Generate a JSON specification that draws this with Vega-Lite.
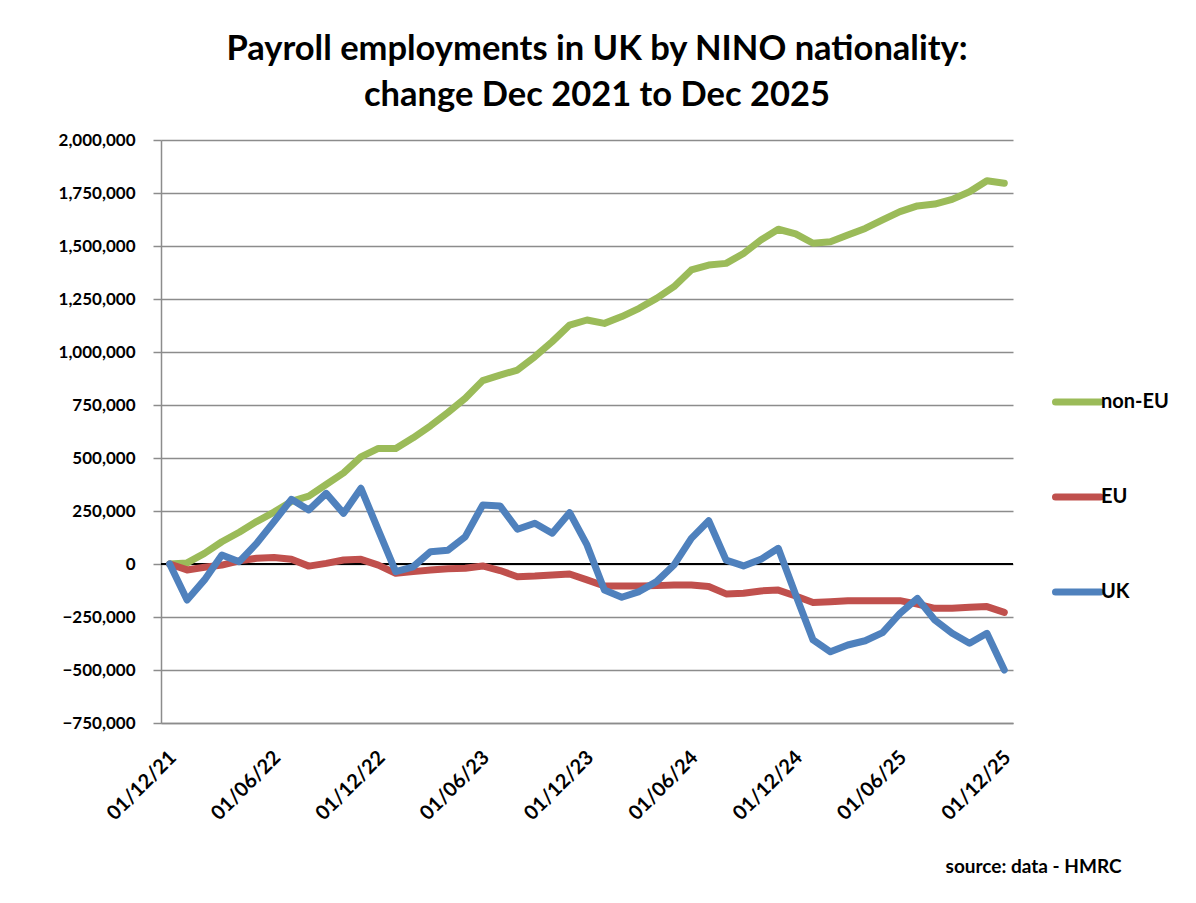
{
  "$schema": "https://vega.github.io/schema/vega-lite/v6.json",
  "autosize": {"type": "none"},
  "padding": {"left": 161, "top": 140, "right": 183, "bottom": 180},
  "width": 852,
  "height": 583,
  "background": "white",
  "title": {
    "text": ["Payroll employments in UK by NINO nationality:", "change Dec 2021 to Dec 2025"],
    "font": "Lato",
    "fontSize": 34.5,
    "fontWeight": "bold",
    "color": "black",
    "anchor": "middle",
    "frame": "group",
    "lineHeight": 46,
    "offset": 18,
    "dx": 10
  },
  "data": {
    "values": [
      {"date": "01/12/21", "s": "non-EU", "v": 0},
      {"date": "01/01/22", "s": "non-EU", "v": 5000},
      {"date": "01/02/22", "s": "non-EU", "v": 50000},
      {"date": "01/03/22", "s": "non-EU", "v": 105000},
      {"date": "01/04/22", "s": "non-EU", "v": 150000},
      {"date": "01/05/22", "s": "non-EU", "v": 200000},
      {"date": "01/06/22", "s": "non-EU", "v": 245000},
      {"date": "01/07/22", "s": "non-EU", "v": 295000},
      {"date": "01/08/22", "s": "non-EU", "v": 320000},
      {"date": "01/09/22", "s": "non-EU", "v": 375000},
      {"date": "01/10/22", "s": "non-EU", "v": 430000},
      {"date": "01/11/22", "s": "non-EU", "v": 505000},
      {"date": "01/12/22", "s": "non-EU", "v": 545000},
      {"date": "01/01/23", "s": "non-EU", "v": 545000},
      {"date": "01/02/23", "s": "non-EU", "v": 595000},
      {"date": "01/03/23", "s": "non-EU", "v": 652000},
      {"date": "01/04/23", "s": "non-EU", "v": 715000},
      {"date": "01/05/23", "s": "non-EU", "v": 782000},
      {"date": "01/06/23", "s": "non-EU", "v": 865000},
      {"date": "01/07/23", "s": "non-EU", "v": 891000},
      {"date": "01/08/23", "s": "non-EU", "v": 915000},
      {"date": "01/09/23", "s": "non-EU", "v": 978000},
      {"date": "01/10/23", "s": "non-EU", "v": 1049000},
      {"date": "01/11/23", "s": "non-EU", "v": 1127000},
      {"date": "01/12/23", "s": "non-EU", "v": 1151000},
      {"date": "01/01/24", "s": "non-EU", "v": 1135000},
      {"date": "01/02/24", "s": "non-EU", "v": 1167000},
      {"date": "01/03/24", "s": "non-EU", "v": 1206000},
      {"date": "01/04/24", "s": "non-EU", "v": 1253000},
      {"date": "01/05/24", "s": "non-EU", "v": 1308000},
      {"date": "01/06/24", "s": "non-EU", "v": 1387000},
      {"date": "01/07/24", "s": "non-EU", "v": 1410000},
      {"date": "01/08/24", "s": "non-EU", "v": 1418000},
      {"date": "01/09/24", "s": "non-EU", "v": 1465000},
      {"date": "01/10/24", "s": "non-EU", "v": 1528000},
      {"date": "01/11/24", "s": "non-EU", "v": 1579000},
      {"date": "01/12/24", "s": "non-EU", "v": 1557000},
      {"date": "01/01/25", "s": "non-EU", "v": 1513000},
      {"date": "01/02/25", "s": "non-EU", "v": 1520000},
      {"date": "01/03/25", "s": "non-EU", "v": 1552000},
      {"date": "01/04/25", "s": "non-EU", "v": 1583000},
      {"date": "01/05/25", "s": "non-EU", "v": 1623000},
      {"date": "01/06/25", "s": "non-EU", "v": 1662000},
      {"date": "01/07/25", "s": "non-EU", "v": 1689000},
      {"date": "01/08/25", "s": "non-EU", "v": 1698000},
      {"date": "01/09/25", "s": "non-EU", "v": 1720000},
      {"date": "01/10/25", "s": "non-EU", "v": 1756000},
      {"date": "01/11/25", "s": "non-EU", "v": 1808000},
      {"date": "01/12/25", "s": "non-EU", "v": 1796000},
      {"date": "01/12/21", "s": "EU", "v": 0},
      {"date": "01/01/22", "s": "EU", "v": -28000},
      {"date": "01/02/22", "s": "EU", "v": -15000},
      {"date": "01/03/22", "s": "EU", "v": -5000},
      {"date": "01/04/22", "s": "EU", "v": 15000},
      {"date": "01/05/22", "s": "EU", "v": 27000},
      {"date": "01/06/22", "s": "EU", "v": 31000},
      {"date": "01/07/22", "s": "EU", "v": 22000},
      {"date": "01/08/22", "s": "EU", "v": -10000},
      {"date": "01/09/22", "s": "EU", "v": 3000},
      {"date": "01/10/22", "s": "EU", "v": 19000},
      {"date": "01/11/22", "s": "EU", "v": 22000},
      {"date": "01/12/22", "s": "EU", "v": -5000},
      {"date": "01/01/23", "s": "EU", "v": -44000},
      {"date": "01/02/23", "s": "EU", "v": -36000},
      {"date": "01/03/23", "s": "EU", "v": -28000},
      {"date": "01/04/23", "s": "EU", "v": -22000},
      {"date": "01/05/23", "s": "EU", "v": -20000},
      {"date": "01/06/23", "s": "EU", "v": -9000},
      {"date": "01/07/23", "s": "EU", "v": -31000},
      {"date": "01/08/23", "s": "EU", "v": -60000},
      {"date": "01/09/23", "s": "EU", "v": -57000},
      {"date": "01/10/23", "s": "EU", "v": -52000},
      {"date": "01/11/23", "s": "EU", "v": -47000},
      {"date": "01/12/23", "s": "EU", "v": -75000},
      {"date": "01/01/24", "s": "EU", "v": -104000},
      {"date": "01/02/24", "s": "EU", "v": -104000},
      {"date": "01/03/24", "s": "EU", "v": -104000},
      {"date": "01/04/24", "s": "EU", "v": -102000},
      {"date": "01/05/24", "s": "EU", "v": -99000},
      {"date": "01/06/24", "s": "EU", "v": -99000},
      {"date": "01/07/24", "s": "EU", "v": -106000},
      {"date": "01/08/24", "s": "EU", "v": -141000},
      {"date": "01/09/24", "s": "EU", "v": -138000},
      {"date": "01/10/24", "s": "EU", "v": -127000},
      {"date": "01/11/24", "s": "EU", "v": -123000},
      {"date": "01/12/24", "s": "EU", "v": -151000},
      {"date": "01/01/25", "s": "EU", "v": -182000},
      {"date": "01/02/25", "s": "EU", "v": -178000},
      {"date": "01/03/25", "s": "EU", "v": -173000},
      {"date": "01/04/25", "s": "EU", "v": -173000},
      {"date": "01/05/25", "s": "EU", "v": -173000},
      {"date": "01/06/25", "s": "EU", "v": -173000},
      {"date": "01/07/25", "s": "EU", "v": -189000},
      {"date": "01/08/25", "s": "EU", "v": -209000},
      {"date": "01/09/25", "s": "EU", "v": -209000},
      {"date": "01/10/25", "s": "EU", "v": -204000},
      {"date": "01/11/25", "s": "EU", "v": -201000},
      {"date": "01/12/25", "s": "EU", "v": -228000},
      {"date": "01/12/21", "s": "UK", "v": 0},
      {"date": "01/01/22", "s": "UK", "v": -170000},
      {"date": "01/02/22", "s": "UK", "v": -75000},
      {"date": "01/03/22", "s": "UK", "v": 42000},
      {"date": "01/04/22", "s": "UK", "v": 11000},
      {"date": "01/05/22", "s": "UK", "v": 97000},
      {"date": "01/06/22", "s": "UK", "v": 200000},
      {"date": "01/07/22", "s": "UK", "v": 305000},
      {"date": "01/08/22", "s": "UK", "v": 255000},
      {"date": "01/09/22", "s": "UK", "v": 333000},
      {"date": "01/10/22", "s": "UK", "v": 239000},
      {"date": "01/11/22", "s": "UK", "v": 357000},
      {"date": "01/12/22", "s": "UK", "v": 160000},
      {"date": "01/01/23", "s": "UK", "v": -36000},
      {"date": "01/02/23", "s": "UK", "v": -13000},
      {"date": "01/03/23", "s": "UK", "v": 58000},
      {"date": "01/04/23", "s": "UK", "v": 65000},
      {"date": "01/05/23", "s": "UK", "v": 129000},
      {"date": "01/06/23", "s": "UK", "v": 278000},
      {"date": "01/07/23", "s": "UK", "v": 274000},
      {"date": "01/08/23", "s": "UK", "v": 164000},
      {"date": "01/09/23", "s": "UK", "v": 192000},
      {"date": "01/10/23", "s": "UK", "v": 145000},
      {"date": "01/11/23", "s": "UK", "v": 242000},
      {"date": "01/12/23", "s": "UK", "v": 90000},
      {"date": "01/01/24", "s": "UK", "v": -123000},
      {"date": "01/02/24", "s": "UK", "v": -157000},
      {"date": "01/03/24", "s": "UK", "v": -130000},
      {"date": "01/04/24", "s": "UK", "v": -83000},
      {"date": "01/05/24", "s": "UK", "v": -5000},
      {"date": "01/06/24", "s": "UK", "v": 121000},
      {"date": "01/07/24", "s": "UK", "v": 204000},
      {"date": "01/08/24", "s": "UK", "v": 18000},
      {"date": "01/09/24", "s": "UK", "v": -9000},
      {"date": "01/10/24", "s": "UK", "v": 22000},
      {"date": "01/11/24", "s": "UK", "v": 74000},
      {"date": "01/12/24", "s": "UK", "v": -145000},
      {"date": "01/01/25", "s": "UK", "v": -358000},
      {"date": "01/02/25", "s": "UK", "v": -414000},
      {"date": "01/03/25", "s": "UK", "v": -382000},
      {"date": "01/04/25", "s": "UK", "v": -362000},
      {"date": "01/05/25", "s": "UK", "v": -324000},
      {"date": "01/06/25", "s": "UK", "v": -233000},
      {"date": "01/07/25", "s": "UK", "v": -162000},
      {"date": "01/08/25", "s": "UK", "v": -264000},
      {"date": "01/09/25", "s": "UK", "v": -327000},
      {"date": "01/10/25", "s": "UK", "v": -374000},
      {"date": "01/11/25", "s": "UK", "v": -327000},
      {"date": "01/12/25", "s": "UK", "v": -500000}
    ]
  },
  "layer": [
    {
      "mark": {"type": "rule", "color": "black", "strokeWidth": 2},
      "encoding": {"y": {"datum": 0, "type": "quantitative"}}
    },
    {
      "mark": {"type": "line", "strokeWidth": 7, "strokeJoin": "round", "strokeCap": "round"},
      "encoding": {
        "x": {
          "field": "date",
          "type": "ordinal",
          "sort": null,
          "scale": {"type": "point", "padding": 0.5},
          "axis": {
            "values": ["01/12/21", "01/06/22", "01/12/22", "01/06/23", "01/12/23", "01/06/24", "01/12/24", "01/06/25", "01/12/25"],
            "title": "source: data - HMRC",
            "titleFont": "Lato",
            "titleFontSize": 19,
            "titleFontWeight": "bold",
            "titleColor": "black",
            "titleAlign": "right",
            "titleBaseline": "alphabetic",
            "titleX": 960,
            "titleY": 149,
            "ticks": false,
            "grid": false,
            "domainColor": "#8c8c8c",
            "domainWidth": 1.5,
            "labelAngle": -45,
            "labelAlign": "right",
            "labelBaseline": "middle",
            "labelPadding": 31,
            "labelOffset": 3,
            "labelFont": "Lato",
            "labelFontSize": 20,
            "labelFontWeight": "bold",
            "labelColor": "black",
            "labelOverlap": false,
            "labelBound": false
          }
        },
        "y": {
          "field": "v",
          "type": "quantitative",
          "scale": {"domain": [-750000, 2000000], "nice": false, "zero": false},
          "axis": {
            "values": [-750000, -500000, -250000, 0, 250000, 500000, 750000, 1000000, 1250000, 1500000, 1750000, 2000000],
            "format": ",.0f",
            "title": null,
            "grid": true,
            "gridColor": "#8c8c8c",
            "gridWidth": 1.5,
            "domainColor": "#8c8c8c",
            "domainWidth": 1.5,
            "tickColor": "#8c8c8c",
            "tickWidth": 1.5,
            "tickSize": 8,
            "labelPadding": 18,
            "labelFont": "Lato",
            "labelFontSize": 17,
            "labelFontWeight": "bold",
            "labelColor": "black"
          }
        },
        "color": {
          "field": "s",
          "type": "nominal",
          "scale": {"domain": ["non-EU", "EU", "UK"], "range": ["#9BBB59", "#C0504D", "#4F81BD"]},
          "legend": {
            "title": null,
            "orient": "none",
            "legendX": 891,
            "legendY": 236,
            "padding": 0,
            "symbolType": "stroke",
            "symbolSize": 2025,
            "symbolStrokeWidth": 7,
            "labelFont": "Lato",
            "labelFontSize": 20,
            "labelFontWeight": "bold",
            "labelColor": "black",
            "labelOffset": -3,
            "rowPadding": 55,
            "encode": {"symbols": {"update": {"strokeCap": {"value": "round"}}}}
          }
        }
      }
    }
  ],
  "config": {"view": {"stroke": null}, "font": "Lato"}
}
